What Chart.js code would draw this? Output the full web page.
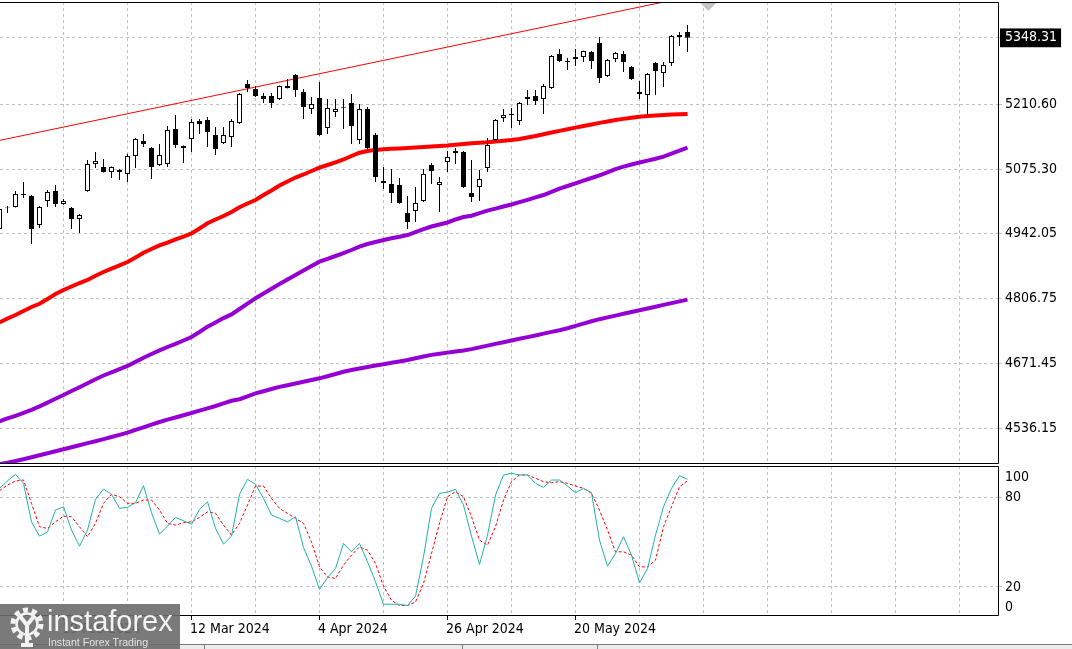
<!DOCTYPE html>
<html>
<head>
<meta charset="utf-8">
<script src="https://cdn.jsdelivr.net/npm/chart.js@4.4.1/dist/chart.umd.min.js"></script>
<style>
  html, body { margin: 0; padding: 0; background: #fff; }
  #wrap { position: relative; width: 1072px; height: 649px; overflow: hidden; background: #fff; }
  #main { position: absolute; left: 0; top: 0; }
  #stoch { position: absolute; left: 0; top: 464px; }
  #strip { position: absolute; left: 0; top: 644px; width: 1072px; height: 5px; background: #ececec; border-top: 1px solid #7a7a7a; }
  .sep { position: absolute; top: 0; width: 1px; height: 5px; background: #7a7a7a; }
  #logo { position: absolute; left: 0; top: 604px; width: 180px; height: 45px; background: rgba(108,108,108,0.9);
          color: #f4f4f4; font-family: 'Liberation Sans', Arial, sans-serif; }
  #logo .big { position: absolute; left: 47px; top: 1px; font-size: 29px; line-height: 32px; }
  #logo .small { position: absolute; left: 48px; top: 32px; font-size: 10.6px; line-height: 12px; color: #e2e2e2; }
</style>
</head>
<body>
<div id="wrap">
  <canvas id="main" width="1072" height="466"></canvas>
  <canvas id="stoch" width="1072" height="185"></canvas>
  <div id="strip"><div class="sep" style="left:204px"></div><div class="sep" style="left:462px"></div><div class="sep" style="left:597px"></div></div>
  <div id="logo">
    <svg width="40" height="42" viewBox="0 0 40 42" style="position:absolute;left:7px;top:2px">
      <circle cx="20" cy="18" r="14" fill="none" stroke="#f2f2f2" stroke-width="5" stroke-dasharray="5 3.8"/>
      <circle cx="20" cy="18" r="10.5" fill="none" stroke="#f2f2f2" stroke-width="2.5"/>
      <path d="M13.5 11 L20 19 L26.5 11 M20 19 L20 39 M14 39 L26 39" stroke="#f2f2f2" stroke-width="4" fill="none"/>
    </svg>
    <div class="big">instaforex</div>
    <div class="small">Instant Forex Trading</div>
  </div>
</div>
<script>
// bar -1 is the half hidden candle on the left edge
const firstBar = -1;
const dateTicks = ['19 Feb 2024', '12 Mar 2024', '4 Apr 2024', '26 Apr 2024', '20 May 2024'];
const dateTickBars = [7, 23, 39, 55, 71];
const priceTicks = [5210.60, 5075.30, 4942.05, 4806.75, 4671.45, 4536.15];
const lastPrice = 5348.31;
const stochTicks = [80, 20];
const stochEdgeTicks = [100, 0];

const open = [4950.4, 4995.2, 4996.2, 5023.3, 5019.1, 4958.7, 5008.7, 5029.5, 5002.5, 4994.1,
  4971.2, 5029.5, 5085.7, 5079.5, 5069.1, 5073.2, 5065.0, 5102.4, 5133.6, 5119.0,
  5083.6, 5085.7, 5158.5, 5119.0, 5137.7, 5175.2, 5177.3, 5146.1, 5129.4, 5141.9,
  5171.0, 5252.2, 5241.8, 5227.3, 5227.3, 5221.0, 5248.1, 5271.0, 5235.6, 5200.2,
  5223.1, 5160.6, 5193.9, 5205.0, 5212.7, 5135.7, 5200.2, 5146.1, 5050.3, 5044.1,
  5042.0, 4983.7, 4987.9, 5008.7, 5083.6, 5042.0, 5089.9, 5108.6, 5110.7, 5025.4,
  5037.8, 5077.4, 5135.7, 5181.5, 5189.8, 5175.2, 5225.2, 5227.3, 5221.0, 5243.9,
  5314.7, 5300.1, 5308.4, 5308.4, 5318.8, 5337.6, 5268.9, 5304.3, 5314.7, 5287.6,
  5235.6, 5229.3, 5295.9, 5275.1, 5295.9, 5354.2, 5360.5];
const high = [4996.2, 4998.3, 5029.5, 5048.2, 5021.2, 4998.3, 5031.6, 5042.0, 5012.9, 4996.2,
  4981.6, 5094.0, 5110.7, 5096.1, 5080.5, 5075.3, 5106.5, 5139.8, 5148.2, 5121.1,
  5127.3, 5164.8, 5187.7, 5124.0, 5179.4, 5179.4, 5183.5, 5162.7, 5162.7, 5179.4,
  5233.5, 5260.6, 5248.1, 5233.5, 5233.5, 5249.0, 5262.6, 5273.1, 5241.8, 5225.2,
  5256.4, 5221.0, 5221.0, 5221.0, 5231.4, 5210.6, 5204.4, 5150.3, 5079.5, 5075.3,
  5056.6, 5019.1, 5037.8, 5075.3, 5087.8, 5058.7, 5112.8, 5119.0, 5112.8, 5094.0,
  5073.2, 5139.8, 5179.4, 5200.2, 5202.3, 5214.8, 5239.7, 5239.7, 5252.2, 5312.6,
  5325.1, 5306.4, 5325.1, 5321.5, 5320.9, 5350.0, 5304.3, 5318.8, 5320.9, 5289.7,
  5258.5, 5275.1, 5298.0, 5298.0, 5354.2, 5360.5, 5375.0];
const low = [4946.3, 4983.7, 4995.0, 5015.0, 4919.2, 4952.5, 4996.2, 4996.2, 5001.0, 4950.4,
  4942.1, 5028.0, 5077.4, 5068.0, 5056.6, 5052.4, 5048.2, 5077.4, 5121.1, 5054.5,
  5081.5, 5079.5, 5119.0, 5087.8, 5110.7, 5148.2, 5121.1, 5104.4, 5127.3, 5121.1,
  5169.0, 5235.6, 5225.2, 5212.7, 5202.3, 5218.9, 5243.0, 5225.2, 5179.4, 5189.8,
  5144.0, 5148.2, 5183.5, 5158.5, 5127.3, 5127.3, 5117.0, 5048.2, 5033.7, 5004.5,
  5003.0, 4950.4, 4965.0, 5006.6, 5044.1, 4985.8, 5069.1, 5085.7, 5036.0, 5006.6,
  5008.7, 5069.1, 5131.5, 5173.1, 5160.6, 5166.9, 5208.5, 5208.5, 5189.8, 5241.8,
  5298.0, 5281.4, 5289.7, 5298.0, 5283.5, 5254.3, 5266.8, 5298.0, 5277.2, 5260.6,
  5221.0, 5187.7, 5229.3, 5246.0, 5289.7, 5331.3, 5318.8];
const close = [4992.1, 4996.2, 5023.3, 5021.2, 4950.4, 4996.2, 5027.4, 5002.5, 5008.7, 4971.2,
  4979.5, 5085.7, 5092.0, 5069.1, 5079.5, 5069.1, 5102.4, 5137.7, 5127.3, 5079.5,
  5104.4, 5156.5, 5125.3, 5123.2, 5173.1, 5169.0, 5152.3, 5117.0, 5146.1, 5175.2,
  5231.4, 5243.9, 5227.3, 5221.0, 5212.7, 5248.1, 5243.9, 5239.7, 5204.4, 5210.6,
  5146.1, 5202.3, 5200.2, 5203.0, 5164.8, 5200.2, 5119.0, 5058.7, 5046.2, 5025.4,
  5004.5, 4965.0, 5004.5, 5065.0, 5071.2, 5048.2, 5100.3, 5112.8, 5037.8, 5017.0,
  5054.5, 5125.3, 5177.3, 5187.7, 5187.7, 5212.7, 5221.0, 5216.9, 5248.1, 5310.5,
  5300.1, 5298.0, 5304.3, 5320.9, 5300.1, 5264.7, 5302.2, 5316.8, 5298.0, 5262.6,
  5231.4, 5273.1, 5279.3, 5291.8, 5352.1, 5350.0, 5348.31];

// moving averages (red = fast, purple = slower ones)
const maRed = [4755.8, 4764.1, 4771.4, 4779.7, 4788.1, 4794.7, 4804.7, 4815.1, 4823.4, 4830.7,
  4838.0, 4844.3, 4853.2, 4860.9, 4867.8, 4874.7, 4881.7, 4891.1, 4901.1, 4908.8,
  4916.3, 4922.3, 4928.6, 4934.8, 4941.1, 4951.5, 4962.3, 4970.2, 4977.5, 4985.8,
  4995.8, 5003.5, 5010.8, 5021.2, 5030.6, 5041.0, 5049.3, 5057.6, 5063.9, 5071.1,
  5078.0, 5083.6, 5089.3, 5095.1, 5102.4, 5109.2, 5112.8, 5115.1, 5116.3, 5117.4,
  5118.2, 5119.0, 5120.1, 5120.9, 5121.9, 5123.2, 5124.2, 5125.7, 5127.3, 5128.8,
  5129.8, 5130.9, 5132.6, 5134.0, 5135.7, 5137.8, 5140.9, 5144.0, 5147.5, 5151.3,
  5154.6, 5157.9, 5161.5, 5164.8, 5167.9, 5171.3, 5174.2, 5177.1, 5179.6, 5181.9,
  5184.2, 5185.6, 5186.9, 5187.9, 5189.0, 5189.4, 5189.8];
const maPurple = [4550.1, 4556.0, 4561.6, 4567.6, 4574.1, 4581.2, 4588.9, 4597.0, 4604.9, 4613.2,
  4621.1, 4629.4, 4637.8, 4645.5, 4651.9, 4658.6, 4665.3, 4673.8, 4682.5, 4690.2,
  4697.7, 4704.8, 4711.5, 4718.3, 4725.6, 4736.0, 4747.1, 4756.0, 4765.0, 4772.7,
  4783.9, 4795.1, 4806.2, 4816.2, 4826.2, 4835.9, 4845.5, 4854.7, 4863.8, 4873.2,
  4882.4, 4888.4, 4894.2, 4900.3, 4906.7, 4913.8, 4919.2, 4923.4, 4927.5, 4931.1,
  4934.4, 4937.9, 4944.0, 4950.0, 4955.6, 4959.8, 4964.0, 4970.2, 4975.4, 4978.1,
  4983.3, 4988.7, 4992.9, 4997.3, 5001.4, 5006.4, 5011.2, 5016.2, 5021.2, 5027.9,
  5034.5, 5039.9, 5045.5, 5051.2, 5056.6, 5062.2, 5068.2, 5074.9, 5080.3, 5084.7,
  5088.8, 5092.8, 5096.7, 5100.9, 5107.2, 5113.4, 5119.6];
const maPurpleSlow = [4460.9, 4464.2, 4467.5, 4471.3, 4475.4, 4479.6, 4483.5, 4487.7, 4491.9, 4496.2,
  4500.4, 4504.6, 4508.7, 4512.9, 4517.5, 4522.0, 4526.6, 4532.2, 4537.7, 4543.3,
  4548.7, 4553.5, 4558.1, 4562.8, 4567.4, 4572.4, 4577.2, 4582.0, 4587.6, 4592.8,
  4596.1, 4601.8, 4608.4, 4612.8, 4617.4, 4621.8, 4625.3, 4628.8, 4632.6, 4636.1,
  4639.6, 4644.0, 4648.6, 4653.2, 4656.9, 4660.0, 4663.2, 4666.1, 4668.8, 4671.9,
  4674.8, 4677.7, 4681.3, 4685.0, 4688.4, 4690.6, 4693.1, 4695.4, 4697.7, 4700.4,
  4704.0, 4707.7, 4711.3, 4714.8, 4718.3, 4721.9, 4725.4, 4728.9, 4732.7, 4736.2,
  4739.8, 4743.9, 4748.7, 4753.5, 4758.3, 4762.7, 4766.4, 4770.2, 4773.9, 4777.7,
  4781.4, 4784.9, 4788.7, 4792.4, 4796.2, 4799.7, 4803.5];

const trendBars = [-1, 85];
const trendValues = [5134.8, 5433.3];

const stochK = [86.0, 91.1, 95.4, 89.4, 63.6, 54.0, 56.9, 71.5, 73.7, 58.1,
  47.3, 58.1, 78.7, 85.6, 82.0, 72.6, 73.3, 76.4, 87.8, 69.7,
  55.4, 60.7, 66.6, 64.3, 61.9, 71.9, 77.0, 59.2, 48.7, 54.0,
  82.0, 92.1, 88.7, 79.3, 68.1, 65.9, 63.6, 67.0, 46.4, 33.9,
  18.3, 26.3, 32.3, 49.1, 43.5, 49.1, 36.8, 23.4, 8.4, 8.4,
  8.4, 7.5, 13.8, 40.1, 72.6, 82.7, 83.4, 85.4, 74.8, 54.0,
  35.0, 54.7, 81.5, 95.0, 96.1, 95.0, 95.0, 89.4, 86.7, 91.6,
  91.6, 87.6, 83.1, 86.0, 83.1, 51.3, 33.9, 42.4, 53.6, 41.3,
  22.7, 32.3, 54.7, 73.7, 86.0, 94.5, 92.1];
const stochD = [84.4, 88.3, 90.9, 91.6, 76.0, 60.3, 59.2, 63.6, 67.4, 67.0,
  60.3, 53.6, 62.6, 76.0, 82.0, 80.4, 76.0, 76.0, 78.2, 78.2,
  71.5, 62.6, 61.4, 63.0, 63.6, 66.6, 70.3, 69.3, 61.4, 54.7,
  62.6, 74.8, 87.6, 87.6, 79.3, 72.6, 69.3, 65.9, 62.6, 50.2,
  33.4, 26.7, 25.6, 34.6, 41.3, 46.8, 44.6, 35.7, 20.5, 11.1,
  7.5, 7.5, 9.9, 22.3, 42.4, 62.6, 80.4, 83.8, 80.4, 67.0,
  51.3, 48.0, 60.3, 78.2, 90.5, 95.0, 95.0, 92.8, 90.5, 89.8,
  90.5, 89.4, 87.6, 86.0, 82.7, 71.5, 58.1, 43.5, 43.5, 41.3,
  33.4, 33.4, 37.9, 60.3, 73.7, 87.1, 91.1];

// ---- layout ----
const FONT = { family: "'DejaVu Sans Condensed', 'Liberation Sans', sans-serif", size: 14 };
const GRID = '#c0c0c0';
const X_MIN = -0.9375;                 // 8 px per bar, bar centres on half pixels
const X_MAX = X_MIN + 998 / 8;
const Y_MAX = 5422.92, Y_MIN = 4461.26;

const bars = open.map((_, k) => firstBar + k);
const pts = arr => arr.map((v, k) => ({ x: bars[k], y: v }));

function gridTicks(scale) {
  const t = [];
  for (let v = -1; v <= X_MAX; v += 8) t.push({ value: v });
  scale.ticks = t;
}
function noPad(s) {
  s.paddingTop = 0; s.paddingBottom = 0; s.paddingLeft = 0; s.paddingRight = 0;
}

const frame = {
  id: 'frame',
  afterDraw(chart) {
    const { ctx, chartArea: a } = chart;
    ctx.save();
    ctx.strokeStyle = '#000';
    ctx.lineWidth = 1;
    ctx.beginPath();
    ctx.moveTo(a.left, a.top + 0.5);
    ctx.lineTo(a.right + 0.5, a.top + 0.5);
    ctx.lineTo(a.right + 0.5, a.bottom - 0.5);
    ctx.lineTo(a.left, a.bottom - 0.5);
    ctx.stroke();
    ctx.restore();
  }
};

const shiftMark = {
  id: 'shiftMark',
  afterDraw(chart) {
    const { ctx, chartArea: a } = chart;
    const x = chart.scales.x.getPixelForValue(87.6);
    ctx.save();
    ctx.fillStyle = '#c4c4c4';
    ctx.beginPath();
    ctx.moveTo(x - 8, a.top + 1);
    ctx.lineTo(x + 8, a.top + 1);
    ctx.lineTo(x, a.top + 9);
    ctx.closePath();
    ctx.fill();
    ctx.restore();
  }
};

const edgeLabels = {
  id: 'edgeLabels',
  afterDraw(chart) {
    const { ctx, chartArea: a } = chart;
    const y = chart.scales.y;
    ctx.save();
    ctx.font = FONT.size + 'px ' + FONT.family;
    ctx.fillStyle = '#000';
    ctx.textBaseline = 'middle';
    ctx.textAlign = 'left';
    ctx.fillText(String(stochEdgeTicks[0]), a.right + 7, y.getPixelForValue(stochEdgeTicks[0]) + 9.5);
    ctx.fillText(String(stochEdgeTicks[1]), a.right + 7, y.getPixelForValue(stochEdgeTicks[1]) - 9.5);
    ctx.restore();
  }
};

new Chart(document.getElementById('main'), {
  type: 'bar',
  data: {
    datasets: [
      {
        type: 'bar',
        data: bars.map((x, k) => ({ x, y: [open[k], close[k]] })),
        backgroundColor: bars.map((x, k) => close[k] >= open[k] ? '#ffffff' : '#000000'),
        borderColor: '#000', borderWidth: 1, borderSkipped: false,
        barThickness: 5, grouped: false, inflateAmount: 0, order: 1
      },
      {
        type: 'bar',
        data: bars.map((x, k) => ({ x, y: [low[k], high[k]] })),
        backgroundColor: '#000', borderWidth: 0,
        barThickness: 1, grouped: false, inflateAmount: 0, order: 2
      },
      { type: 'line', data: pts(maRed), borderColor: '#ff0000', borderWidth: 4, pointRadius: 0, order: 3 },
      { type: 'line', data: pts(maPurple), borderColor: '#9400d3', borderWidth: 4, pointRadius: 0, order: 3 },
      { type: 'line', data: pts(maPurpleSlow), borderColor: '#9400d3', borderWidth: 4, pointRadius: 0, order: 3 },
      { type: 'line', data: trendBars.map((x, k) => ({ x, y: trendValues[k] })), borderColor: '#ff0000', borderWidth: 1, pointRadius: 0, order: 3 }
    ]
  },
  options: {
    responsive: false, animation: false, events: [],
    layout: { padding: { left: 0, right: 0, top: 2, bottom: 2 } },
    plugins: { legend: { display: false }, tooltip: { enabled: false } },
    scales: {
      x: {
        type: 'linear', min: X_MIN, max: X_MAX, offset: false,
        afterBuildTicks: gridTicks, afterFit: s => { s.height = 0; noPad(s); },
        ticks: { display: false },
        grid: { color: GRID, offset: false, drawTicks: false },
        border: { display: false, dash: [3, 3] }
      },
      y: {
        position: 'right', min: Y_MIN, max: Y_MAX,
        afterBuildTicks: s => { s.ticks = [lastPrice].concat(priceTicks).map(v => ({ value: v })); },
        afterFit: s => { s.width = 74; noPad(s); },
        ticks: {
          font: FONT, padding: 3,
          color: c => (c.tick && c.tick.value === lastPrice) ? '#ffffff' : '#000000',
          callback: v => v.toFixed(2),
          showLabelBackdrop: c => !!(c.tick && c.tick.value === lastPrice),
          backdropColor: '#000', backdropPadding: { left: 5, right: 4, top: 1, bottom: 1 }
        },
        grid: { color: GRID, tickLength: 4, tickColor: GRID },
        border: { display: false, dash: [3, 3] }
      }
    }
  },
  plugins: [frame, shiftMark]
});

new Chart(document.getElementById('stoch'), {
  type: 'line',
  data: {
    datasets: [
      { data: pts(stochK), borderColor: '#20b2aa', borderWidth: 1, pointRadius: 0 },
      { data: pts(stochD), borderColor: '#ff0000', borderWidth: 1, borderDash: [3, 2], pointRadius: 0 }
    ]
  },
  options: {
    responsive: false, animation: false, events: [],
    layout: { padding: { left: 0, right: 0, top: 2, bottom: 0 } },
    plugins: { legend: { display: false }, tooltip: { enabled: false } },
    scales: {
      x: {
        type: 'linear', min: X_MIN, max: X_MAX, offset: false,
        afterBuildTicks: gridTicks, afterFit: s => { s.height = 33; noPad(s); },
        ticks: {
          autoSkip: false, maxRotation: 0, align: 'start', padding: 1, labelOffset: -1.5, font: FONT, color: '#000',
          callback: v => { const k = dateTickBars.indexOf(v); return k < 0 ? '' : dateTicks[k]; }
        },
        grid: {
          color: GRID, offset: false, tickLength: 4,
          tickColor: c => (c.tick && dateTickBars.includes(c.tick.value)) ? '#000' : 'rgba(0,0,0,0)'
        },
        border: { display: false, dash: [3, 3] }
      },
      y: {
        position: 'right', min: 0.5, max: 101,
        afterBuildTicks: s => { s.ticks = stochTicks.map(v => ({ value: v })); },
        afterFit: s => { s.width = 74; noPad(s); },
        ticks: { font: FONT, color: '#000', padding: 3 },
        grid: { color: GRID, tickLength: 4, tickColor: GRID },
        border: { display: false, dash: [3, 3] }
      }
    }
  },
  plugins: [frame, edgeLabels]
});
</script>
</body>
</html>
